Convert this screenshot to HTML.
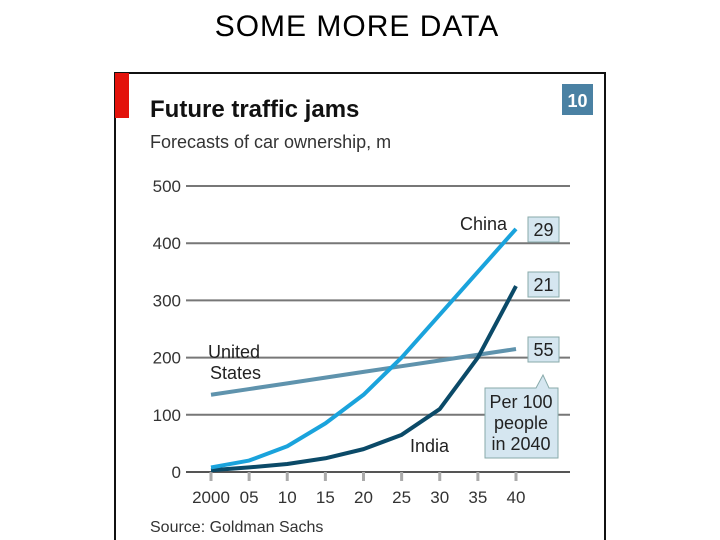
<!DOCTYPE html>
<html><head><meta charset="utf-8"><style>
body{margin:0;width:720px;height:540px;background:#fff;overflow:hidden;font-family:"Liberation Sans",sans-serif}
</style></head><body>
<div style="position:absolute;left:0;width:714px;top:10px;text-align:center;font-size:30px;letter-spacing:1px;color:#000">SOME MORE DATA</div>
<svg width="720" height="540" style="position:absolute;left:0;top:0">
<rect x="115" y="73" width="490" height="480" fill="#fff" stroke="#111" stroke-width="2"/>
<rect x="115" y="73" width="14" height="45" fill="#e3120b"/>
<text x="150" y="117" font-size="24" font-weight="bold" fill="#111">Future traffic jams</text>
<text x="150" y="148" font-size="18" fill="#333">Forecasts of car ownership, m</text>
<rect x="562" y="84" width="31" height="31" fill="#4a81a3"/>
<text x="577.5" y="107" font-size="18" font-weight="bold" fill="#fff" text-anchor="middle">10</text>
<g id="grid"></g><g id="lines"></g>
<text x="460" y="230" font-size="18" fill="#222">China</text>
<text x="410" y="452" font-size="18" fill="#222">India</text>
<text x="208" y="358" font-size="18" fill="#222">United</text>
<text x="210" y="379" font-size="18" fill="#222">States</text>
<g fill="#d5e6f0" stroke="#8aa" stroke-width="1">
<rect x="528" y="217" width="31" height="25"/>
<rect x="528" y="272" width="31" height="25"/>
<rect x="528" y="337" width="31" height="25"/>
<path d="M485,388 L536,388 L543,375 L549,388 L558,388 L558,458 L485,458 Z"/>
</g>
<g font-size="18" fill="#222" text-anchor="middle">
<text x="543.5" y="236">29</text><text x="543.5" y="291">21</text><text x="543.5" y="356">55</text>
<text x="521" y="408">Per 100</text><text x="521" y="429">people</text><text x="521" y="450">in 2040</text>
</g>
<text x="150" y="532" font-size="16" fill="#333">Source: Goldman Sachs</text>
</svg>
<script>
const years=["2000","05","10","15","20","25","30","35","40"];
const yTicks=[0,100,200,300,400,500];
const china=[8,20,45,85,135,200,275,350,425];
const india=[3,8,14,24,40,65,110,200,325];
const us=[135,145,155,165,175,185,195,205,215];
const ns="http://www.w3.org/2000/svg";
const xs=i=>211+i*(516-211)/8, ys=v=>472-v*(472-186)/500;
const g=document.getElementById('grid'), L=document.getElementById('lines');
function mk(t,a,p){const e=document.createElementNS(ns,t);for(const k in a)e.setAttribute(k,a[k]);p.appendChild(e);return e;}
yTicks.forEach(v=>{
 const l=mk('line',{x1:186,x2:570,y1:ys(v),y2:ys(v),stroke:v===0?'#555':'#777','stroke-width':2},g);
 
 
 const t=mk('text',{x:181,y:ys(v)+6,'font-size':17,fill:'#333','text-anchor':'end'},g);t.textContent=v;
 
 
});
years.forEach((y,i)=>{
 mk('line',{x1:xs(i),x2:xs(i),y1:472,y2:481,stroke:'#aaa','stroke-width':3},g);
 const t=mk('text',{x:xs(i),y:503,'font-size':17,fill:'#333','text-anchor':'middle'},g);t.textContent=y;
 
 
});
function line(d,c,n){const p=d.map((v,i)=>(i?'L':'M')+xs(i)+','+ys(v)).join('');
 const e=mk('path',{d:p,fill:'none',stroke:c,'stroke-width':4,'stroke-linejoin':'round'},L);
 
 }
line(us,'#5f93ad','us-line');line(india,'#0b4a68','india-line');line(china,'#1aa3dc','china-line');
</script>
</body></html>
